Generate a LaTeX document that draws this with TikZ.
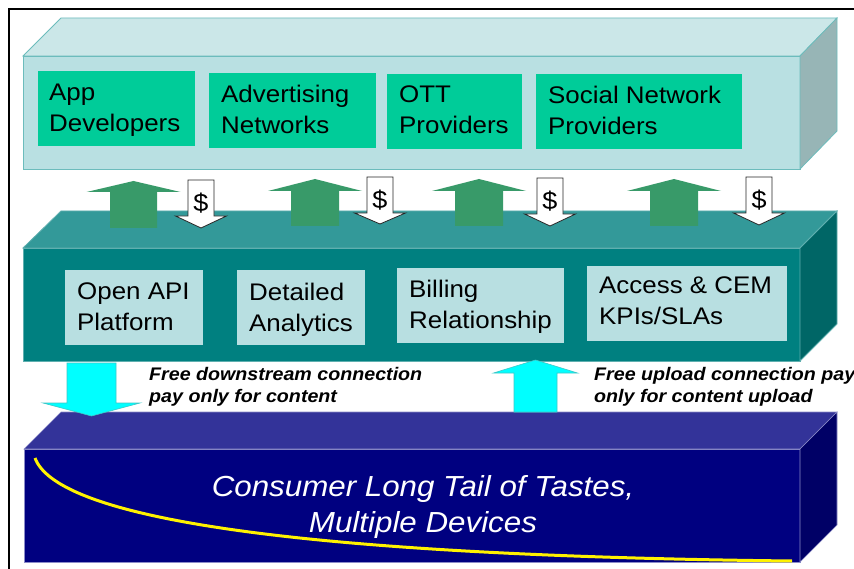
\documentclass[tikz,border=0pt]{standalone}
\usepackage{fontspec}
\setmainfont{Liberation Sans}[FakeStretch=1.08]
\definecolor{topfront}{HTML}{B9E0E2}
\definecolor{toptop}{HTML}{CBE7E8}
\definecolor{topside}{HTML}{97B5B6}
\definecolor{topedge}{HTML}{6CBCBC}
\definecolor{midfront}{HTML}{008080}
\definecolor{midtop}{HTML}{339999}
\definecolor{midside}{HTML}{006666}
\definecolor{midedge}{HTML}{5FAFAF}
\definecolor{botfront}{HTML}{000080}
\definecolor{bottop}{HTML}{333399}
\definecolor{botside}{HTML}{000066}
\definecolor{botedge}{HTML}{8C8CC8}
\definecolor{boxgreen}{HTML}{00CC99}
\definecolor{boxlight}{HTML}{B8DFE1}
\definecolor{arrgreen}{HTML}{389A69}
\definecolor{arrcyan}{HTML}{00FFFF}
\definecolor{cyanedge}{HTML}{3CC8C8}
\newcommand{\blockarrow}[7]{%
  \filldraw[#1] (#2-#6,#5) -- (#2-#6,#4) -- (#2-#7,#4) -- (#2,#3) -- (#2+#7,#4) -- (#2+#6,#4) -- (#2+#6,#5) -- cycle;}
\begin{document}
\begin{tikzpicture}[x=1pt,y=-1pt,
  front/.style={minimum width=777pt, minimum height=113pt, inner sep=0pt, outer sep=0pt, line width=0.8pt},
  gbox/.style={fill=boxgreen, minimum height=75pt, inner sep=0pt, outer sep=0pt},
  lbox/.style={fill=boxlight, minimum height=75pt, inner sep=0pt, outer sep=0pt},
  btxt/.style={anchor=north west, inner sep=0pt, align=left, font=\fontsize{24}{31}\selectfont},
  garrow/.style={fill=arrgreen, draw=none},
  darrow/.style={fill=white, draw=black!85, line width=0.8pt, line join=miter},
  carrow/.style={fill=arrcyan, draw=cyanedge, line width=0.6pt},
  dollar/.style={font=\fontsize{25}{26}\selectfont, inner sep=0pt},
  freetxt/.style={font=\fontsize{18.2}{22}\selectfont\bfseries\itshape, align=left, inner sep=0pt, anchor=north west},
  bottxt/.style={font=\fontsize{29}{36}\selectfont\itshape, text=white, align=center, inner sep=0pt}
]
\useasboundingbox (0,0) rectangle (854,569);
\fill[white] (0,0) rectangle (854,569);

% top layer
\node[front, fill=topfront, draw=topedge] (L1) at (411.5,112.5) {};
\filldraw[fill=toptop, draw=topedge, line width=0.8pt] (L1.north west) -- ++(38,-38) -- ++(776,0) -- (L1.north east) -- cycle;
\filldraw[fill=topside, draw=topedge, line width=0.8pt] (L1.north east) -- ++(37,-38) -- ++(0,113) -- (L1.south east) -- cycle;

% middle layer
\node[front, fill=midfront, draw=midedge] (L2) at (411.5,304.5) {};
\filldraw[fill=midtop, draw=midedge, line width=0.8pt] (L2.north west) -- ++(38,-37) -- ++(776,0) -- (L2.north east) -- cycle;
\filldraw[fill=midside, draw=midedge, line width=0.8pt] (L2.north east) -- ++(37,-37) -- ++(0,113) -- (L2.south east) -- cycle;

% bottom layer
\node[front, fill=botfront, draw=botedge, minimum width=776pt] (L3) at (412,505.5) {};
\filldraw[fill=bottop, draw=botedge, line width=0.6pt] (L3.north west) -- ++(37,-37) -- ++(776,0) -- (L3.north east) -- cycle;
\filldraw[fill=botside, draw=botedge, line width=0.6pt] (L3.north east) -- ++(37,-37) -- ++(0,113) -- (L3.south east) -- cycle;

% top boxes
\node[gbox, minimum width=157pt] (app) at (116.5,108.5) {};
\node[gbox, minimum width=167pt] (adv) at (292.5,110.5) {};
\node[gbox, minimum width=135pt] (ott) at (454.5,111.5) {};
\node[gbox, minimum width=206pt] (soc) at (639,111.5) {};
\node[btxt] (apptxt) at (49,84) {App\\Developers};
\node[btxt] (advtxt) at (221,85) {Advertising\\Networks};
\node[btxt] (otttxt) at (399,86) {OTT\\Providers};
\node[btxt] (soctxt) at (548,86) {Social Network\\Providers};

% middle boxes
\node[lbox, minimum width=138pt] (api) at (134,307.5) {};
\node[lbox, minimum width=128pt] (ana) at (301,307.5) {};
\node[lbox, minimum width=167pt] (bil) at (480.5,305.5) {};
\node[lbox, minimum width=200pt] (acc) at (687,303.5) {};
\node[btxt] (apitxt) at (77,283) {Open API\\Platform};
\node[btxt] (anatxt) at (249,283) {Detailed\\Analytics};
\node[btxt] (biltxt) at (409,280) {Billing\\Relationship};
\node[btxt] (acctxt) at (599,277) {Access \& CEM\\KPIs/SLAs};

% green up arrows
\blockarrow{garrow}{133.5}{181}{192}{228}{23.5}{47}
\blockarrow{garrow}{315}{179}{191}{226}{24}{47}
\blockarrow{garrow}{479}{179}{191}{226}{24}{47}
\blockarrow{garrow}{674}{179}{191}{226}{24}{47}

% dollar down arrows
\blockarrow{darrow}{201}{228}{216}{180}{13}{25.5}
\blockarrow{darrow}{380}{224}{213}{177}{13}{25.5}
\blockarrow{darrow}{550}{226}{214}{178}{13}{25.5}
\blockarrow{darrow}{759}{225}{213}{177}{13}{25.5}
\node[dollar] (d1) at (201,203) {\$};
\node[dollar] (d2) at (380,200) {\$};
\node[dollar] (d3) at (550,201) {\$};
\node[dollar] (d4) at (759,200) {\$};

% cyan arrows
\blockarrow{carrow}{91.5}{416}{403}{363}{24.5}{48.5}
\blockarrow{carrow}{535.5}{360}{373}{412}{21.5}{42}

% labels
\node[freetxt] (down) at (149,367) {Free downstream connection\\pay only for content};
\node[freetxt] (up) at (594,367) {Free upload connection pay\\only for content upload};

% long tail
\draw[yellow, line width=3pt] (35,458) .. controls (55,512) and (250,555) .. (792,561);
\node[bottxt] (cons) at (423,507) {Consumer Long Tail of Tastes,\\Multiple Devices};

% frame
\draw[line width=2pt] (9,580) -- (9,9) -- (870,9);
\end{tikzpicture}
\end{document}
